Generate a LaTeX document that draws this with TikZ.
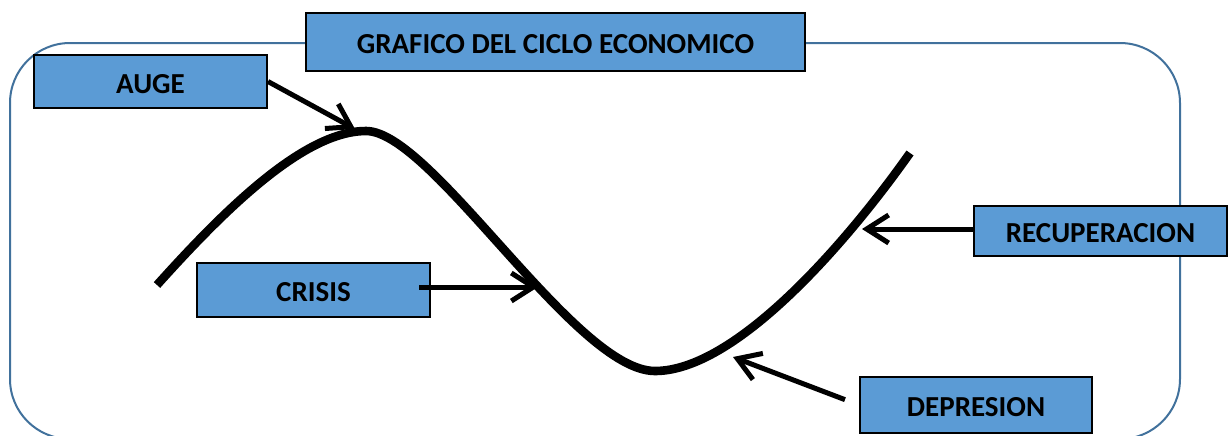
\documentclass[tikz,border=0pt]{standalone}
\usepackage{fontspec}
\setmainfont{Carlito}
\usetikzlibrary{arrows.meta}
\definecolor{cajacolor}{HTML}{5B9BD5}
\definecolor{marcocolor}{HTML}{41719C}
\tikzset{
    caja/.style = {fill = cajacolor, draw, line width = 1pt, rectangle, font = \fontsize{14.5}{16}\selectfont\bfseries, inner sep = 0pt, text height = 11.5pt, text depth = 0pt},
    flecha/.style = {-{Straight Barb[length = 11pt, width = 14pt]}, line width = 2.5pt},
}
\begin{document}
\begin{tikzpicture}[x = 0.5pt, y = -0.5pt]
        \useasboundingbox (0, 0) rectangle (1228, 435);

        % Frame
        \draw [color = marcocolor, line width = 1pt, rounded corners = 30pt] (10, 43) rectangle (1180, 439);

        % Curve
        \draw [line width = 4.3pt] (157, 285) .. controls (227, 207) and (305, 131) .. (366, 131)
            .. controls (432, 131) and (575, 371) .. (655, 371)
            .. controls (735, 371) and (845, 245) .. (910, 153);

        % Points on the curve
        \coordinate (pauge) at (355, 129);
        \coordinate (pcrisis) at (538, 287);
        \coordinate (precup) at (862, 229);
        \coordinate (pdepre) at (733, 357);

        % Nodes
        \node [caja, minimum width = 249.5pt, minimum height = 29pt] (titulo) at (555.5, 42) {GRAFICO DEL CICLO ECONOMICO};
        \node [caja, minimum width = 116.5pt, minimum height = 26.5pt] (auge) at (150.5, 81.5) {AUGE};
        \node [caja, minimum width = 116.5pt, minimum height = 27pt] (crisis) at (313.5, 290) {CRISIS};
        \node [caja, minimum width = 126.5pt, minimum height = 25pt] (recup) at (1100.5, 231) {RECUPERACION};
        \node [caja, minimum width = 116pt, minimum height = 28pt] (depre) at (976, 405) {DEPRESION};

        % Draw the links
        \draw [flecha] (auge.east) -- (pauge);
        \draw [flecha] ([xshift = -6pt]crisis.east |- pcrisis) -- (pcrisis);
        \draw [flecha] (recup.west |- precup) -- (precup);
        \draw [flecha, shorten <= 7.5pt] (depre.west) -- (pdepre);

    \end{tikzpicture}
\end{document}
